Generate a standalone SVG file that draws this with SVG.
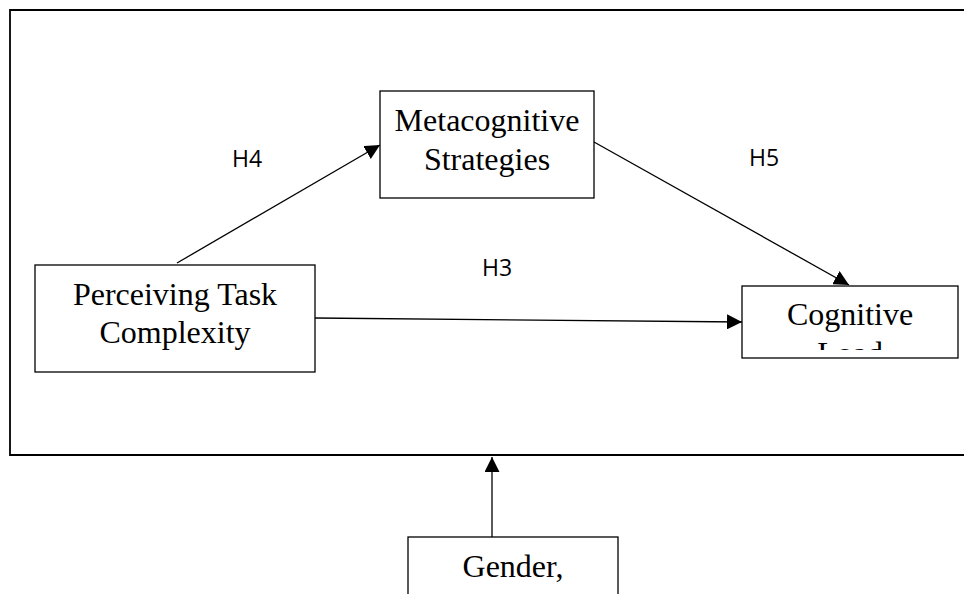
<svg xmlns="http://www.w3.org/2000/svg" width="964" height="594" viewBox="0 0 964 594">
<style>
.box{fill:#fff;stroke:#000;stroke-width:1.3}
.t{font-family:"Liberation Serif","Times New Roman",serif;font-size:32px;fill:#000;text-anchor:middle}
.h{font-family:"Open Sans","Liberation Sans",sans-serif;font-size:23px;fill:#000;text-anchor:middle}
.c{stroke:#000;stroke-width:1.3;fill:none}
</style>
<defs>
<marker id="ah" viewBox="0 0 10 10" refX="10" refY="5" markerWidth="15" markerHeight="15" markerUnits="userSpaceOnUse" orient="auto">
<path d="M0,0 L10,5 L0,10 Z" fill="#000"/>
</marker>
<clipPath id="clipCL"><rect x="742" y="286" width="216" height="64"/></clipPath>
</defs>
<g id="frame">
<path d="M964,10 H10 V455 H964" fill="none" stroke="#000" stroke-width="1.8"/>
</g>
<g id="connectors">
<line class="c" x1="177" y1="263" x2="380" y2="145" marker-end="url(#ah)"/>
<line class="c" x1="594" y1="142" x2="849" y2="285" marker-end="url(#ah)"/>
<line class="c" x1="315" y1="318" x2="742" y2="322" marker-end="url(#ah)"/>
<line class="c" x1="492" y1="537" x2="492" y2="457" marker-end="url(#ah)"/>
</g>
<g id="labels">
<text class="h" x="247" y="167">H4</text>
<text class="h" x="764" y="166">H5</text>
<text class="h" x="497" y="276">H3</text>
</g>
<g id="node-metacognitive">
<rect class="box" x="380" y="91" width="214" height="107"/>
<text class="t" x="487" y="131">Metacognitive</text>
<text class="t" x="487" y="170">Strategies</text>
</g>
<g id="node-perceiving">
<rect class="box" x="35" y="265" width="280" height="107"/>
<text class="t" x="175" y="305">Perceiving Task</text>
<text class="t" x="175" y="343">Complexity</text>
</g>
<g id="node-cognitive">
<rect class="box" x="742" y="286" width="216" height="72"/>
<g clip-path="url(#clipCL)">
<text class="t" x="850" y="325">Cognitive</text>
<text class="t" x="850" y="364">Load</text>
</g>
</g>
<g id="node-gender">
<rect class="box" x="408" y="537" width="210" height="70"/>
<text class="t" x="513" y="577">Gender,</text>
</g>
</svg>
